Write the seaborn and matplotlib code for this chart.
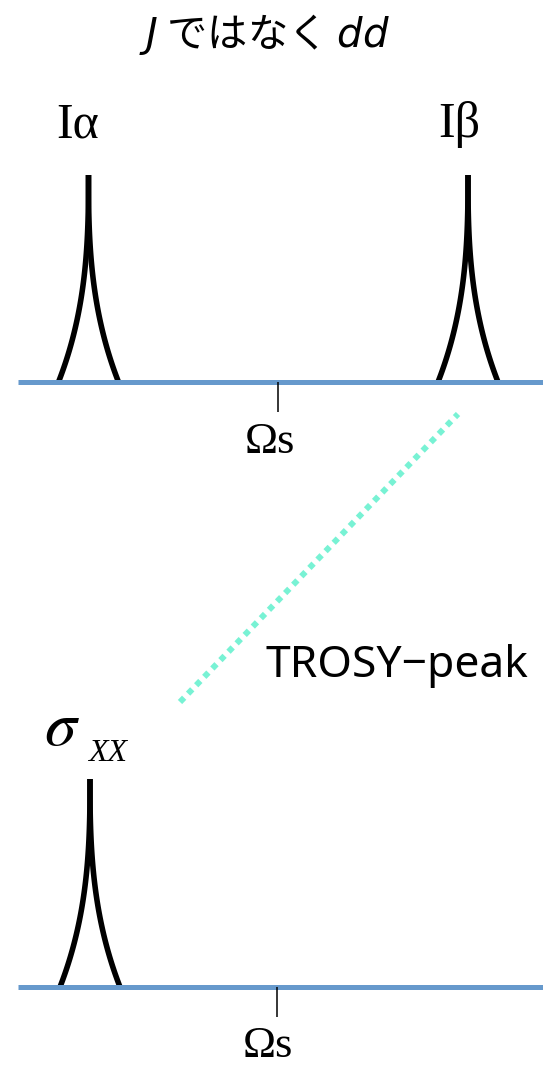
import numpy as np
import pandas as pd
import matplotlib.pyplot as plt
import seaborn as sns

sns.set_theme(style="white")
plt.rcParams['font.family'] = ['Noto Sans CJK JP', 'DejaVu Sans']
plt.rcParams['mathtext.fontset'] = 'dejavusans'
plt.rcParams['text.color'] = 'black'

# diagram units: x to the right, y downward (same scale as the picture)
peak_names = ["Iα", "Iβ", "σxx"]
peak_center = [88.5, 468, 90]
peak_base = [382, 382, 987]
peak_height = [207, 207, 208]
peak_halfwidth = [30, 30, 30]
peak_sharpness = 2.7

baseline_y = [382, 987]
baseline_x = [18, 543]
omega_x = [278, 277]
omega_len = 30

trosy_x = [180, 458]
trosy_y = [702, 414]

# peak curves: two cusp branches per peak
t = np.linspace(0, 1, 120)
rows = []
for name, c, b, h, w in zip(peak_names, peak_center, peak_base, peak_height, peak_halfwidth):
    for side in (-1, 1):
        xs = c + side * w * (1 - t) ** peak_sharpness
        ys = b - h * t
        for xx, yy in zip(xs, ys):
            rows.append({'curve': f"{name}{side}", 'x': xx, 'y': yy})
peaks = pd.DataFrame(rows)

base_df = pd.DataFrame({
    'line': [0, 0, 1, 1],
    'x': baseline_x * 2,
    'y': [baseline_y[0]] * 2 + [baseline_y[1]] * 2,
})
tick_df = pd.DataFrame({
    'line': [0, 0, 1, 1],
    'x': [omega_x[0]] * 2 + [omega_x[1]] * 2,
    'y': [baseline_y[0], baseline_y[0] + omega_len, baseline_y[1], baseline_y[1] + omega_len],
})
trosy_df = pd.DataFrame({'x': trosy_x, 'y': trosy_y})

fig = plt.figure(figsize=(5.43, 10.66), dpi=100)
ax = fig.add_axes([0, 0, 1, 1])

sns.lineplot(data=peaks, x='x', y='y', units='curve', estimator=None, sort=False,
             color='black', linewidth=4.0, solid_capstyle='butt', ax=ax, zorder=2)
sns.lineplot(data=base_df, x='x', y='y', units='line', estimator=None, sort=False,
             color='#6699CC', linewidth=3.6, solid_capstyle='butt', ax=ax, zorder=3)
sns.lineplot(data=tick_df, x='x', y='y', units='line', estimator=None, sort=False,
             color='black', linewidth=1.1, solid_capstyle='butt', ax=ax, zorder=3)
sns.lineplot(data=trosy_df, x='x', y='y', estimator=None, sort=False,
             color='#78F2D4', linewidth=4.3, linestyle=(0, (1, 0.95)), ax=ax, zorder=2)

ax.set_xlim(0, 543)
ax.set_ylim(1066, 0)
ax.axis('off')

serif = ['Liberation Serif', 'DejaVu Serif']
ax.text(264, 47, r"$J$ ではなく $dd$", fontsize=29, ha='center', va='baseline')
ax.text(78, 137, "Iα", fontsize=36, family=serif, ha='center', va='baseline')
ax.text(459, 137, "Iβ", fontsize=36, family=serif, ha='center', va='baseline')
ax.text(270, 453, "Ωs", fontsize=32, family=serif, ha='center', va='baseline')
ax.text(268, 1057, "Ωs", fontsize=32, family=serif, ha='center', va='baseline')
ax.text(44, 745, r"$\sigma$", fontsize=46, math_fontfamily='stix', ha='left', va='baseline')
ax.text(88, 761, "XX", fontsize=23, family=serif, style='italic', ha='left', va='baseline')
ax.text(265, 677, "TROSY−peak", fontsize=32, family=['Noto Sans', 'DejaVu Sans'], ha='left', va='baseline')

fig.savefig("out.png", dpi=100)
